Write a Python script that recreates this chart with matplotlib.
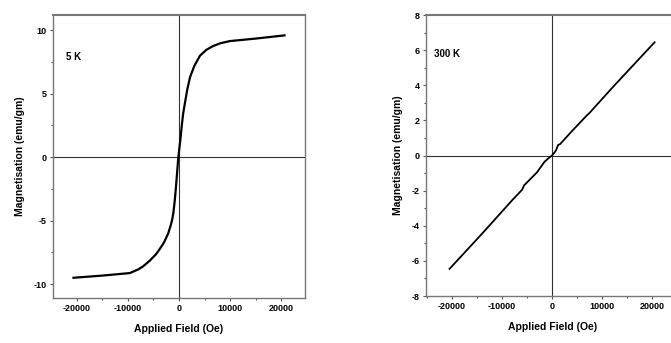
import matplotlib.pyplot as plt
from matplotlib.ticker import MultipleLocator

plt.rcParams['font.family'] = ['Liberation Sans', 'DejaVu Sans']
plt.rcParams['font.weight'] = 'bold'
plt.rcParams['axes.labelweight'] = 'bold'
plt.rcParams['axes.unicode_minus'] = False

# 5 K loop (Oe, emu/gm)
field_5k = [-20600, -15000, -9600, -8000, -7000, -5700, -4500, -3700, -2900,
            -2100, -1600, -1350, -1100, -850, -600, -130, 300, 520, 800, 1170,
            1600, 2150, 3000, 4100, 5300, 6600, 8000, 9900, 15000, 20600]
mag_5k = [-9.5, -9.33, -9.13, -8.85, -8.6, -8.15, -7.65, -7.2, -6.7,
          -6.0, -5.35, -4.95, -4.4, -3.5, -2.4, 0.0, 1.5, 2.4, 3.4, 4.3,
          5.3, 6.3, 7.2, 8.0, 8.45, 8.75, 8.97, 9.15, 9.35, 9.6]

# 300 K loop
field_300k = [-20500, -14000, -8000, -6000, -5600, -3000, -2000, -1500, -500,
              0, 800, 1200, 1600, 4000, 7000, 7400, 12000, 20500]
mag_300k = [-6.45, -4.45, -2.55, -1.95, -1.7, -0.95, -0.55, -0.35, -0.1,
            0.0, 0.3, 0.6, 0.65, 1.4, 2.3, 2.4, 3.85, 6.45]

fig = plt.figure(figsize=(6.71, 3.43), dpi=100)
ax1 = fig.add_axes([0.079, 0.131, 0.3755, 0.825])
ax2 = fig.add_axes([0.635, 0.137, 0.3755, 0.819])


def style(ax, xlim, ylim, ymajor, yminor):
    ax.set_xlim(*xlim)
    ax.set_ylim(*ylim)
    ax.axhline(0, color='#333333', lw=0.8, zorder=1)
    ax.axvline(0, color='#333333', lw=0.8, zorder=1)
    ax.xaxis.set_major_locator(MultipleLocator(10000))
    ax.xaxis.set_minor_locator(MultipleLocator(5000))
    ax.yaxis.set_major_locator(MultipleLocator(ymajor))
    ax.yaxis.set_minor_locator(MultipleLocator(yminor))
    ax.tick_params(which='major', direction='out', length=2.5, width=0.8,
                   color='#555555', labelsize=6.5, pad=2)
    ax.tick_params(which='minor', direction='out', length=1.5, width=0.8,
                   color='#555555')
    for lbl in ax.get_xticklabels() + ax.get_yticklabels():
        lbl.set_fontweight('bold')
    for s in ax.spines.values():
        s.set_color('#777777')
        s.set_linewidth(1.0)
    ax.spines['top'].set_linewidth(1.5)
    ax.set_xlabel('Applied Field (Oe)', fontsize=7.5, fontweight='bold', labelpad=8)
    ax.set_ylabel('Magnetisation (emu/gm)', fontsize=7.5, fontweight='bold', labelpad=6)


style(ax1, (-24600, 24600), (-11.1, 11.2), 5, 2.5)
ax1.plot(field_5k, mag_5k, color='black', lw=1.6, zorder=3,
         solid_joinstyle='round')
ax1.text(-22000, 7.9, '5 K', fontsize=7, fontweight='bold', va='center', ha='left')

style(ax2, (-25200, 25200), (-8, 8), 2, 1)
ax2.plot(field_300k, mag_300k, color='black', lw=1.3, zorder=3)
ax2.text(-23700, 5.8, '300 K', fontsize=7, fontweight='bold', va='center', ha='left')

fig.savefig('out.png', dpi=100)
